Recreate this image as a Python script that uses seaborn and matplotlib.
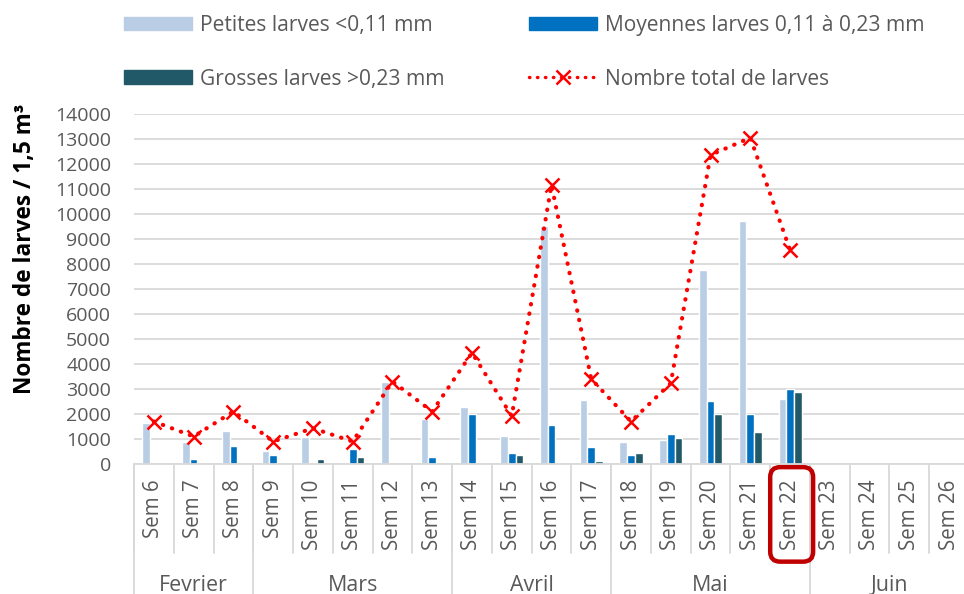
import numpy as np
import pandas as pd
import matplotlib
matplotlib.use("Agg")
import matplotlib.pyplot as plt
from matplotlib.patches import Patch, FancyBboxPatch
from matplotlib.lines import Line2D
import seaborn as sns

# ---- data ----
weeks = [f"Sem {i}" for i in range(6, 27)]
petites = [1650, 900, 1330, 520, 1100, 30, 3280, 1790, 2300, 1120, 9520, 2560,
           880, 960, 7760, 9720, 2600, np.nan, np.nan, np.nan, np.nan]
moyennes = [0, 200, 730, 360, 60, 590, 0, 280, 2000, 430, 1560, 670,
            360, 1190, 2520, 2000, 2990, np.nan, np.nan, np.nan, np.nan]
grosses = [0, 0, 0, 0, 200, 280, 0, 0, 60, 360, 60, 130,
           430, 1030, 2000, 1270, 2900, np.nan, np.nan, np.nan, np.nan]
totals = [1700, 1100, 2100, 900, 1430, 900, 3300, 2100, 4450, 1920, 11160, 3400,
          1700, 3230, 12360, 13050, 8560, np.nan, np.nan, np.nan, np.nan]
months = ["Fevrier", "Mars", "Avril", "Mai", "Juin"]
month_sizes = [3, 5, 4, 5, 4]
highlight_week = "Sem 22"

series_names = ["Petites larves <0,11 mm", "Moyennes larves 0,11 à 0,23 mm",
                "Grosses larves >0,23 mm"]
line_name = "Nombre total de larves"
colors = ["#B9CDE5", "#0070C0", "#215968"]
grey_txt = "#595959"
grid_col = "#D9D9D9"

df = pd.DataFrame({"week": weeks, series_names[0]: petites,
                   series_names[1]: moyennes, series_names[2]: grosses})
long = df.melt(id_vars="week", var_name="taille", value_name="n").dropna()
df_tot = pd.DataFrame({"week": weeks, "total": totals}).dropna()

sns.set_theme(style="white")
plt.rcParams["font.family"] = ["Open Sans", "DejaVu Sans"]

fig = plt.figure(figsize=(9.64, 5.94), dpi=100)
# plot area: x from 134 px, ~39.8 px per week (runs past the right edge)
ax = fig.add_axes([134 / 964, 130 / 594, 835 / 964, 350 / 594])

sns.barplot(data=long, x="week", y="n", hue="taille", order=weeks,
            hue_order=series_names, palette=colors, width=0.58,
            saturation=1, legend=False, ax=ax, zorder=2)
sns.pointplot(data=df_tot, x="week", y="total", order=weeks, color="red",
              marker="x", markersize=10, markeredgewidth=1.8,
              linestyle=(0, (0.1, 2.2)), linewidth=3, dash_capstyle="round",
              ax=ax, zorder=3)

ax.set_xlim(-0.5, len(weeks) - 0.5)
ax.set_ylim(0, 14000)
ax.set_yticks(np.arange(0, 14001, 1000))
ax.yaxis.grid(True, color=grid_col, lw=1.3, zorder=0)
ax.xaxis.grid(False)
ax.set_axisbelow(True)
for s in ["left", "right", "top"]:
    ax.spines[s].set_visible(False)
ax.spines["bottom"].set_color(grid_col)
ax.spines["bottom"].set_linewidth(1.3)
ax.tick_params(axis="y", length=0, labelsize=14, labelcolor=grey_txt, pad=16.5)
ax.tick_params(axis="x", length=0, labelsize=14.8, labelcolor=grey_txt, pad=11)
plt.setp(ax.get_xticklabels(), rotation=90, va="top", ha="center")
ax.set_xlabel("")
ax.set_ylabel("Nombre de larves / 1,5 m³", fontsize=16.3, fontweight="bold",
              color="black")
ax.yaxis.set_label_coords(-0.116, 0.614)

# separators under the category axis
trans = ax.get_xaxis_transform()
for i in range(len(weeks)):
    ax.plot([i - 0.5, i - 0.5], [0, -0.254], transform=trans, color=grid_col,
            lw=1.3, clip_on=False)
bounds = np.concatenate([[0], np.cumsum(month_sizes)]) - 0.5
for b in bounds:
    ax.plot([b, b], [0, -0.4], transform=trans, color=grid_col, lw=1.3,
            clip_on=False)
for m, a, b in zip(months, bounds[:-1], bounds[1:]):
    ax.text((a + b) / 2, -0.346, m, transform=trans, ha="center", va="center",
            fontsize=15.4, color=grey_txt)

# red box around the current week
k = weeks.index(highlight_week)
box = FancyBboxPatch((k - 0.5, -0.279), 1.08, 0.27,
                     boxstyle="round,pad=0,rounding_size=0.25",
                     mutation_aspect=39.76 / 350,
                     transform=trans, fill=False, edgecolor="#C00000", lw=3.2,
                     clip_on=False, zorder=4)
ax.add_patch(box)

# legend
handles = [Patch(color=colors[0], label=series_names[0]),
           Patch(color=colors[2], label=series_names[2]),
           Patch(color=colors[1], label=series_names[1]),
           Line2D([0], [0], color="red", lw=2.5, linestyle=(0, (0.1, 2.2)),
                  dash_capstyle="round", marker="x", markersize=10,
                  markeredgewidth=1.8, label=line_name)]
leg = fig.legend(handles=handles, loc="upper left", ncol=2,
                 bbox_to_anchor=(124 / 964, 1 - 15 / 594), frameon=False,
                 fontsize=15.1, handlelength=3.24, handleheight=0.62,
                 handletextpad=0.38, columnspacing=4.05, labelspacing=1.55,
                 borderpad=0, borderaxespad=0)
for t in leg.get_texts():
    t.set_color(grey_txt)

fig.savefig("out.png", dpi=100)
plt.close(fig)
